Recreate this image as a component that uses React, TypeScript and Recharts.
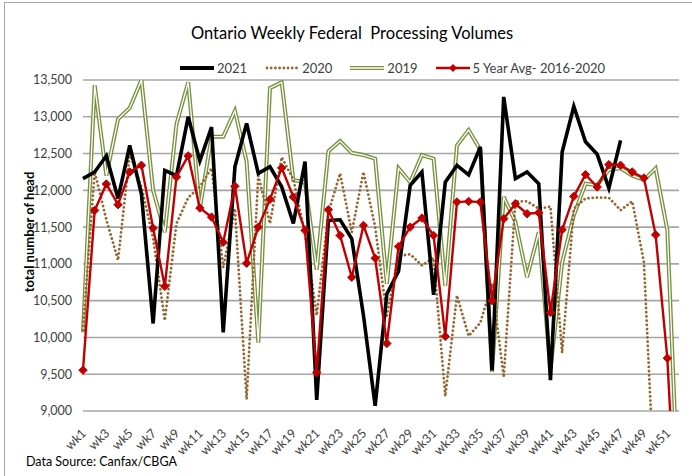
import { LineChart, Line, XAxis, YAxis, CartesianGrid } from 'recharts'

// weekly head counts
const weeks = [
    'wk1', 'wk2', 'wk3', 'wk4', 'wk5', 'wk6', 'wk7', 'wk8', 'wk9', 'wk10',
    'wk11', 'wk12', 'wk13', 'wk14', 'wk15', 'wk16', 'wk17', 'wk18', 'wk19', 'wk20',
    'wk21', 'wk22', 'wk23', 'wk24', 'wk25', 'wk26', 'wk27', 'wk28', 'wk29', 'wk30',
    'wk31', 'wk32', 'wk33', 'wk34', 'wk35', 'wk36', 'wk37', 'wk38', 'wk39', 'wk40',
    'wk41', 'wk42', 'wk43', 'wk44', 'wk45', 'wk46', 'wk47', 'wk48', 'wk49', 'wk50',
    'wk51', 'wk52',
]

const y2021 = [
    12160, 12250, 12470, 11890, 12610, 11950, 10190, 12270, 12200, 13000,
    12400, 12860, 10070, 12320, 12910, 12230, 12320, 12050, 11550, 12390,
    9150, 11590, 11600, 11340, 10300, 9070, 10590, 10900, 12070, 12250,
    10580, 12110, 12340, 12210, 12590, 9550, 13270, 12160, 12250, 12090,
    9420, 12520, 13140, 12660, 12490, 12030, 12680,
]

const y2020 = [
    10100, 12250, 11600, 11050, 12500, 12050, 11350, 10230, 11550, 11900,
    12050, 12300, 10950, 11750, 9160, 12200, 11550, 12450, 12150, 11400,
    10300, 11700, 12230, 11430, 12250, 11500, 10300, 11110, 11130, 10980,
    11080, 9200, 10570, 10020, 10200, 10730, 9460, 11850, 11850, 11750,
    11780, 9790, 11750, 11890, 11900, 11900, 11730, 11850, 11020, 7600,
]

const y2019 = [
    10070, 13430, 12200, 12970, 13120, 13500, 12000, 11430, 12900, 13470,
    11750, 12730, 12730, 13080, 12390, 9930, 13390, 13470, 12140, 12110,
    10920, 12530, 12670, 12510, 12480, 12430, 10730, 12300, 12110, 12480,
    12430, 10700, 12610, 12820, 12550, 9530, 11910, 11570, 10820, 11430,
    9560, 11020, 11660, 12090, 12070, 12280, 12300, 12200, 12140, 12300,
    11460, 7550,
]

const avg5yr = [
    9555, 11727, 12086, 11805, 12250, 12341, 11486, 10695, 12182, 12468,
    11759, 11636, 11295, 12055, 11009, 11500, 11877, 12305, 11909, 11455,
    9523, 11736, 11386, 10818, 11523, 11077, 9918, 11236, 11500, 11623,
    11386, 10014, 11841, 11850, 11841, 10500, 11614, 11818, 11682, 11695,
    10341, 11464, 11918, 12214, 12045, 12350, 12341, 12250, 12168, 11395,
    9718, 6700,
]

const yTicks = [9000, 9500, 10000, 10500, 11000, 11500, 12000, 12500, 13000, 13500]

const data = weeks.map((wk, i) => ({
    wk,
    y2021: y2021[i] ?? null,
    y2020: y2020[i] ?? null,
    y2019: y2019[i] ?? null,
    avg: avg5yr[i] ?? null,
}))

const FONT = 'Lato, "DejaVu Sans", sans-serif'
const TEXT = '#404040'
const GREEN = '#76923C'
const BROWN = '#96662E'
const RED = '#C00000'

const Diamond = (props: any) => {
    const { cx, cy, value } = props
    if (cx == null || cy == null || value < 9000) return <g />
    const r = 4.2
    return (
        <polygon
            points={`${cx},${cy - r} ${cx + r},${cy} ${cx},${cy + r} ${cx - r},${cy}`}
            fill={RED}
            stroke={RED}
        />
    )
}

const WeekTick = ({ x, y, payload }: any) => (
    <g transform={`translate(${x + 4},${y + 15})`}>
        <text transform="rotate(-45)" textAnchor="end" fontSize={12.5} fill={TEXT} fontFamily={FONT}>
            {payload.value}
        </text>
    </g>
)

function LegendIcon({ kind }: { kind: string }) {
    return (
        <svg width={34} height={10} style={{ display: 'block' }}>
            {kind === '2021' && <line x1={0} x2={34} y1={5} y2={5} stroke="#000" strokeWidth={4} />}
            {kind === '2020' && (
                <line x1={2} x2={34} y1={5} y2={5} stroke={BROWN} strokeWidth={2.8}
                    strokeDasharray="0.01 4.2" strokeLinecap="round" />
            )}
            {kind === '2019' && (
                <>
                    <line x1={0} x2={34} y1={5} y2={5} stroke={GREEN} strokeWidth={4} />
                    <line x1={0} x2={34} y1={5} y2={5} stroke="#fff" strokeWidth={1.3} />
                </>
            )}
            {kind === 'avg' && (
                <>
                    <line x1={0} x2={34} y1={5} y2={5} stroke={RED} strokeWidth={2.4} />
                    <polygon points="17,1 21,5 17,9 13,5" fill={RED} />
                </>
            )}
        </svg>
    )
}

const legendItems = [
    { kind: '2021', label: '2021' },
    { kind: '2020', label: '2020' },
    { kind: '2019', label: '2019' },
    { kind: 'avg', label: '5 Year Avg- 2016-2020' },
]

export default function App() {
    return (
        <div style={{ position: 'absolute', left: 0, top: 0, width: 692, height: 476, background: '#fff', overflow: 'hidden', fontFamily: FONT }}>
            <div style={{ position: 'absolute', left: 4, top: 2, width: 720, height: 520, borderTop: '1.5px solid #a6a6a6', borderLeft: '1px solid #a6a6a6' }} />
            <div style={{ position: 'absolute', left: 6, top: 23, width: 692, textAlign: 'center', fontSize: 16.5, color: '#000' }}>
                Ontario Weekly Federal&nbsp; Processing Volumes
            </div>
            <div style={{
                position: 'absolute', left: 29 - 100, top: 232 - 9, width: 200, height: 18, lineHeight: '18px',
                textAlign: 'center', transform: 'rotate(-90deg)', fontSize: 13, fontWeight: 700, color: '#000',
            }}>
                total number of head
            </div>
            <div style={{ position: 'absolute', left: 26, top: 454, fontSize: 12.5, color: '#000' }}>
                Data Source: Canfax/CBGA
            </div>
            <div style={{
                position: 'absolute', left: 180, top: 59, display: 'flex', alignItems: 'center',
                fontSize: 13, color: TEXT, lineHeight: '18px',
            }}>
                {legendItems.map(it => (
                    <div key={it.kind} style={{ display: 'flex', alignItems: 'center', marginRight: 18 }}>
                        <LegendIcon kind={it.kind} />
                        <span style={{ marginLeft: 3 }}>{it.label}</span>
                    </div>
                ))}
            </div>
            <LineChart width={692} height={476} data={data} margin={{ top: 80, right: 13, bottom: 10, left: 0 }}>
                <CartesianGrid vertical={false} stroke="#a6a6a6" strokeWidth={1.6} />
                <XAxis dataKey="wk" interval={1} tickLine={false} axisLine={false} height={55} tick={<WeekTick />} />
                <YAxis
                    domain={[9000, 13500]}
                    ticks={yTicks}
                    allowDataOverflow
                    width={83}
                    tickLine={false}
                    axisLine={false}
                    tickMargin={5}
                    tick={{ fontSize: 12.5, fill: TEXT, fontFamily: FONT }}
                    tickFormatter={(v: number) => v.toLocaleString('en-US')}
                />
                <Line dataKey="y2019" name="2019" stroke={GREEN} strokeWidth={4} dot={false} isAnimationActive={false} />
                <Line dataKey="y2019" name="2019in" stroke="#fff" strokeWidth={1.3} dot={false} legendType="none" isAnimationActive={false} />
                <Line dataKey="y2020" name="2020" stroke={BROWN} strokeWidth={2.8} strokeDasharray="0.01 4.2" strokeLinecap="round" dot={false} isAnimationActive={false} />
                <Line dataKey="y2021" name="2021" stroke="#000" strokeWidth={3.6} dot={false} isAnimationActive={false} />
                <Line dataKey="avg" name="5 Year Avg- 2016-2020" stroke={RED} strokeWidth={2.4} dot={<Diamond />} isAnimationActive={false} />
            </LineChart>
        </div>
    )
}
